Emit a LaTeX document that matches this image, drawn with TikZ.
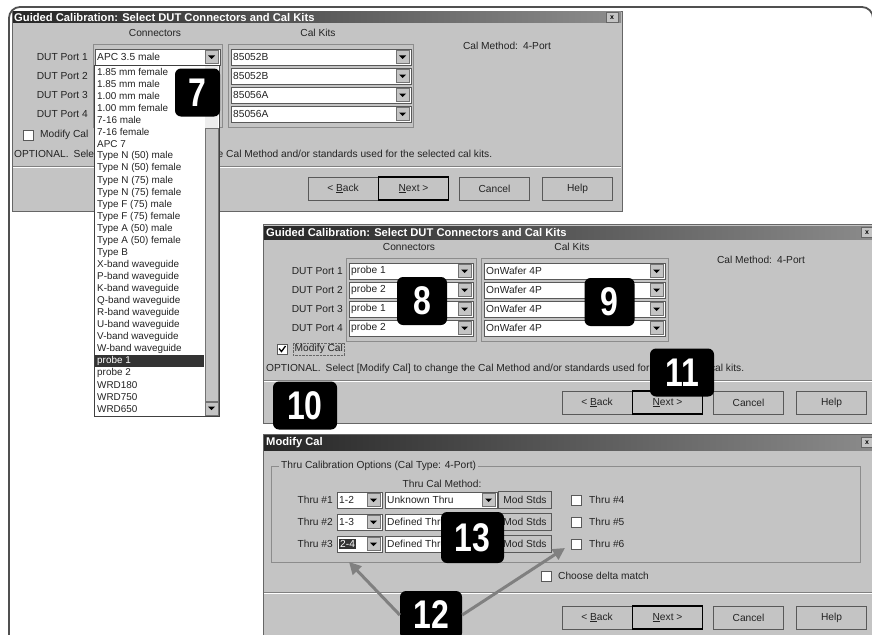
\documentclass[tikz,border=0pt]{standalone}
\usepackage{fontspec}
\setmainfont{Liberation Sans}
\newfontfamily\badgefont{Liberation Sans}[FakeStretch=0.8]
\usetikzlibrary{arrows.meta}

\definecolor{winbg}{RGB}{196,196,196}
\definecolor{wintxt}{RGB}{35,35,35}
\definecolor{edgegray}{RGB}{80,80,80}
\definecolor{ptrgray}{RGB}{128,128,128}
\newcommand\selbox[1]{{\setlength\fboxsep{1pt}\colorbox{black!80}{\textcolor{white}{#1}}}}

\begin{document}
\begin{tikzpicture}[
    x=1pt, y=-1pt,
    font=\fontsize{10.2}{12}\selectfont,
    lbl/.style={inner sep=0pt, text=wintxt},
    win/.style={fill=winbg, draw=black!60, line width=0.8pt},
    titlebar/.style={left color=black!85, right color=black!45},
    ttl/.style={inner sep=0pt, anchor=west, text=white, font=\fontsize{11.2}{12}\selectfont\bfseries},
    closebtn/.style={fill=winbg, draw=black!60, minimum width=12pt, minimum height=10pt, inner sep=0pt, font=\fontsize{7}{7}\selectfont\bfseries},
    grp/.style={draw=black!45},
    btn/.style={fill=winbg, draw=black!65, minimum width=70pt, minimum height=23pt, inner sep=0pt, text=wintxt},
    defbtn/.style={btn, draw=black, line width=1.1pt},
    chk/.style={fill=white, draw=black!65},
    badge/.style={fill=black, rounded corners=6pt, text=white, inner sep=0pt, minimum height=48pt, font=\badgefont\bfseries\fontsize{40}{40}\selectfont},
    ptr/.style={draw=ptrgray, line width=3pt, -{Triangle[length=12pt, width=12pt]}},
    pics/combo/.style 2 args={code={
        \draw[fill=white, draw=black!65] (0,-8) rectangle (#1,8);
        \node[lbl, anchor=west] (-txt) at (2,0) {#2};
        \draw[fill=winbg, draw=black!55] (#1-15,-6.5) rectangle (#1-2,6.5);
        \fill[black] (#1-12,-1.5) -- (#1-5,-1.5) -- (#1-8.5,2) -- cycle;
    }},
  ]
  \useasboundingbox (0,0) rectangle (872,634);

  % outer frame
  \draw[edgegray, line width=1.8pt, rounded corners=11pt] (9,650) -- (9,7) -- (873,7) -- (873,650);

  % first dialog
  \draw[win] (12,11) rectangle (622,211);
  \fill[titlebar] (13,12) rectangle (621,23);
  \node[ttl] (t1) at (14,17.5) {Guided Calibration: Select DUT Connectors and Cal Kits};
  \node[closebtn] (x1) at (612,17.5) {x};
  \node[lbl] (conn1) at (155,33) {Connectors};
  \node[lbl] (kits1) at (318,33) {Cal Kits};
  \node[lbl] (meth1) at (507,46) {Cal Method:\enspace 4-Port};
  \draw[grp] (93,44) rectangle (222,127);
  \draw[grp] (228,44) rectangle (413,127);
  \foreach \k/\kit [count=\p] in {57/85052B, 76/85052B, 95/85056A, 114/85056A} {
    \node[lbl, anchor=east] (port1\p) at (88,\k) {DUT Port \p};
    \pic (kit1\p) at (231,\k) {combo={180}{\kit}};
  }
  \pic (con11) at (95,57) {combo={125}{APC 3.5 male}};
  \draw[chk] (23,130) rectangle (33,140);
  \node[lbl, anchor=west] (mod1) at (40,135) {Modify Cal};
  \node[lbl, anchor=west] (opt1) at (14,155) {OPTIONAL.\enspace Select [Modify Cal] to change the Cal Method and/or standards used for the selected cal kits.};
  \draw[black!50] (13,166) -- (621,166);
  \draw[white] (13,167) -- (621,167);
  \node[btn] (back1) at (343,188.5) {< \underline{B}ack};
  \node[defbtn] (next1) at (413.5,188.5) {\underline{N}ext >};
  \node[btn] (cancel1) at (494.5,188.5) {Cancel};
  \node[btn] (help1) at (577.5,188.5) {Help};

  % connector list, dropped open
  \draw[fill=white, draw=black!75] (94,65) rectangle (219,416);
  \fill[black!7] (205,66) rectangle (218,402);
  \draw[fill=winbg, draw=black!55] (205,128) rectangle (218,401);
  \draw[fill=winbg, draw=black!55] (205,402) rectangle (218,415);
  \fill (208,406.5) -- (215,406.5) -- (211.5,410) -- cycle;
  \begin{scope}[font=\fontsize{9.9}{11}\selectfont]
    \foreach \conn [count=\i from 0] in {1.85 mm female, 1.85 mm male, 1.00 mm male, 1.00 mm female,
        7-16 male, 7-16 female, APC 7, Type N (50) male, Type N (50) female, Type N (75) male,
        Type N (75) female, Type F (75) male, Type F (75) female, Type A (50) male,
        Type A (50) female, Type B, X-band waveguide, P-band waveguide, K-band waveguide,
        Q-band waveguide, R-band waveguide, U-band waveguide, V-band waveguide, W-band waveguide}
      \node[lbl, anchor=west] (item\i) at (97,72+12.05*\i) {\conn};
    \fill[black!80] (95,355) rectangle (204,367);
    \node[lbl, anchor=west, text=white] (item24) at (97,361.2) {probe 1};
    \foreach \conn [count=\i from 25] in {probe 2, WRD180, WRD750, WRD650}
      \node[lbl, anchor=west] (item\i) at (97,72+12.05*\i) {\conn};
  \end{scope}

  % second dialog
  \begin{scope}[shift={(254,214)}]
    \draw[win] (9,10) rectangle (630,209);
    \fill[titlebar] (10,12) rectangle (630,25);
    \node[ttl] (t2) at (12,18.5) {Guided Calibration: Select DUT Connectors and Cal Kits};
    \node[closebtn] (x2) at (613,18.5) {x};
    \node[lbl] (conn2) at (155,33) {Connectors};
    \node[lbl] (kits2) at (318,33) {Cal Kits};
    \node[lbl] (meth2) at (507,46) {Cal Method:\enspace 4-Port};
    \draw[grp] (92,44) rectangle (222,127);
    \draw[grp] (227,44) rectangle (414,127);
    \foreach \k/\probe [count=\p] in {57/probe 1, 76/probe 2, 95/probe 1, 114/probe 2} {
      \node[lbl, anchor=east] (port2\p) at (89,\k) {DUT Port \p};
      \pic (con2\p) at (95,\k) {combo={124}{\probe}};
      \pic (kit2\p) at (230,\k) {combo={181}{OnWafer 4P}};
    }
    \draw[chk] (23,130) rectangle (33,140);
    \draw[line width=1.3pt] (25,134.5) -- (27.5,137.5) -- (31.5,132);
    \node[lbl, anchor=west, draw=black!60, densely dotted, inner sep=1.5pt] (mod2) at (39,135) {Modify Cal};
    \node[lbl, anchor=west] (opt2) at (12,155) {OPTIONAL.\enspace Select [Modify Cal] to change the Cal Method and/or standards used for the selected cal kits.};
    \draw[black!50] (10,166) -- (630,166);
    \draw[white] (10,167) -- (630,167);
    \node[btn] (back2) at (343,188.5) {< \underline{B}ack};
    \node[defbtn] (next2) at (413.5,188.5) {\underline{N}ext >};
    \node[btn] (cancel2) at (494.5,188.5) {Cancel};
    \node[btn] (help2) at (577.5,188.5) {Help};
  \end{scope}

  % modify cal dialog
  \draw[win] (263,434) rectangle (884,650);
  \fill[titlebar] (264,435) rectangle (884,450);
  \node[ttl] (t3) at (266,442.5) {Modify Cal};
  \node[closebtn] (x3) at (867,442.5) {x};
  \draw[grp] (271,466) rectangle (860,562);
  \node[lbl, anchor=west, fill=winbg, inner xsep=2pt] (grp3) at (279,466) {Thru Calibration Options (Cal Type: 4-Port)};
  \node[lbl] (thrum) at (442,484) {Thru Cal Method:};
  \foreach \r/\pr/\meth/\n [count=\t] in {500/1-2/Unknown Thru/4, 522/1-3/Defined Thru/5, 544/\selbox{2-4}/Defined Thru/6} {
    \node[lbl, anchor=east] (thru\t) at (333,\r) {Thru \#\t};
    \pic (pair\t) at (337,\r) {combo={45}{\pr}};
    \pic (how\t) at (385,\r) {combo={112}{\meth}};
    \node[btn, minimum width=53pt, minimum height=17pt] (mods\t) at (525,\r) {Mod Stds};
    \draw[chk] (571,\r-5) rectangle (581,\r+5);
    \node[lbl, anchor=west] (more\t) at (589,\r) {Thru \#\n};
  }
  \draw[chk] (541,571) rectangle (551,581);
  \node[lbl, anchor=west] (delta) at (558,576) {Choose delta match};
  \draw[black!50] (264,592) -- (884,592);
  \draw[white] (264,593) -- (884,593);
  \node[btn] (back3) at (597,617.5) {< \underline{B}ack};
  \node[defbtn] (next3) at (667.5,617.5) {\underline{N}ext >};
  \node[btn] (cancel3) at (748.5,617.5) {Cancel};
  \node[btn] (help3) at (831.5,617.5) {Help};

  % step badges
  \node[badge, minimum width=45pt] (b7) at (197.5,92.5) {7};
  \node[badge, minimum width=50pt] (b8) at (422,301) {8};
  \node[badge, minimum width=50pt] (b9) at (609.5,302) {9};
  \node[badge, minimum width=64pt] (b10) at (305,405.5) {10};
  \node[badge, minimum width=64pt] (b11) at (682,372.5) {11};
  \node[badge, minimum width=63pt, minimum height=51pt] (b13) at (472.5,537.5) {13};
  \node[badge, minimum width=62pt] (b12) at (431,615) {12};

  % pointers from 12
  \coordinate (tipA) at (349,562);
  \coordinate (tipB) at (565,548);
  \draw[ptr] (b12.west) -- (tipA);
  \draw[ptr] (b12.east) -- (tipB);
\end{tikzpicture}
\end{document}
